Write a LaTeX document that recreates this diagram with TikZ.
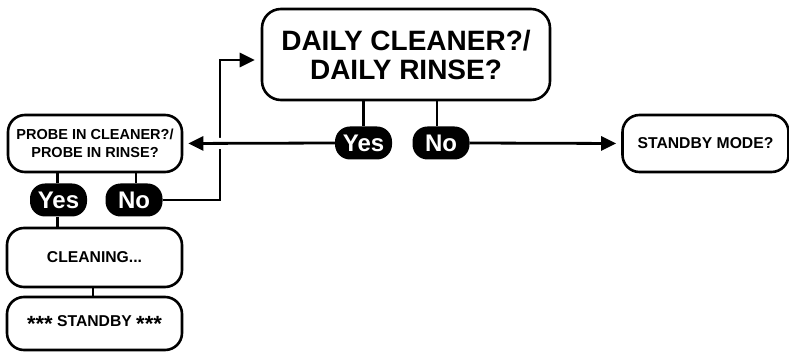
\documentclass[tikz,border=0pt]{standalone}
\usepackage{fontspec}
\setmainfont{Liberation Sans}
\usetikzlibrary{arrows.meta,calc}
\begin{document}
\begin{tikzpicture}[x=1pt,y=-1pt,
  box/.style={draw=black,line width=2.6pt,rounded corners=17pt,fill=white,align=center,inner sep=0pt},
  pill/.style={fill=black,rounded corners=15pt,text=white,inner sep=0pt,minimum width=57pt,minimum height=33pt,font=\fontsize{24}{24}\selectfont\bfseries},
  conn/.style={draw=black,line width=2.8pt},
  arr/.style={conn,-{Triangle[length=15pt,width=14pt]}}]
\useasboundingbox (0,0) rectangle (789,352);

% boxes
\node[box,minimum width=288pt,minimum height=91pt,rounded corners=19pt,font=\fontsize{28}{29}\selectfont\bfseries] (daily) at (406,54.5)
  {DAILY CLEANER?/\\DAILY RINSE?};
\node[box,minimum width=174pt,minimum height=57pt,font=\fontsize{14.5}{17.5}\selectfont\bfseries] (probe) at (95,143.5)
  {PROBE IN CLEANER?/\\PROBE IN RINSE?};
\node[box,minimum width=175pt,minimum height=59pt,font=\fontsize{15.7}{18}\selectfont\bfseries] (clean) at (94.5,257.5)
  {CLEANING...};
\node[box,minimum width=175pt,minimum height=53pt,font=\fontsize{15.7}{18}\selectfont\bfseries] (standby) at (94.5,323.5)
  {\raisebox{-0.35em}{\fontsize{22}{22}\selectfont ***} STANDBY \raisebox{-0.35em}{\fontsize{22}{22}\selectfont ***}};
\node[box,minimum width=166pt,minimum height=57pt,font=\fontsize{15.7}{18}\selectfont\bfseries] (mode) at (705.5,143.5)
  {STANDBY MODE?};

% pills
\node[pill] (yesA) at (363.5,143) {Yes};
\node[pill] (noA) at (441,143) {No};
\node[pill] (yesB) at (58.5,200) {Yes};
\node[pill] (noB) at (134,200) {No};

% stems
\draw[conn] (daily.south -| yesA) -- (yesA.north);
\draw[conn] ($(daily.south -| noA)+(-4,0)$) -- ($(noA.north)+(-4,0)$);
\draw[conn] ($(probe.south -| yesB)+(-1,0)$) -- ($(yesB.north)+(-1,0)$);
\draw[conn] ($(probe.south -| noB)+(2,0)$) -- ($(noB.north)+(2,0)$);
\draw[conn] ($(yesB.south)+(-1,0)$) -- ($(clean.north -| yesB)+(-1,0)$);
\draw[conn] ($(clean.south)+(-1.5,0)$) -- ($(standby.north)+(-1.5,0)$);

% loop back from No (probe) to daily
\coordinate (corner) at (220,200);
\draw[arr,shorten >=6pt] (noB.east) -- (corner) -- (corner |- 0,60) -- (daily.west |- 0,60);

% horizontal connectors
\draw[arr,shorten >=5pt,preaction={draw=white,line width=11pt,-}] (yesA.west) -- (probe.east);
\draw[arr,shorten >=5pt] (noA.east) -- (mode.west);
\end{tikzpicture}
\end{document}
